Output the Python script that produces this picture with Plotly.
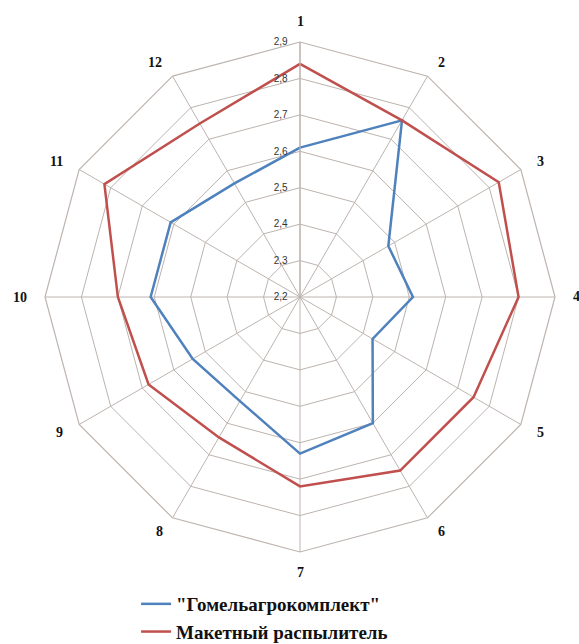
import math
import plotly.graph_objects as go

# Spray-pattern comparison across 12 measurement directions
directions = ["1", "2", "3", "4", "5", "6", "7", "8", "9", "10", "11", "12"]
gomel_values = [2.61, 2.76, 2.48, 2.51, 2.43, 2.60, 2.63, 2.53, 2.54, 2.61, 2.61, 2.56]
prototype_values = [2.84, 2.76, 2.83, 2.80, 2.75, 2.75, 2.72, 2.645, 2.68, 2.70, 2.82, 2.75]

series_names = ['"Гомельагрокомплект"', "Макетный распылитель"]
series_colors = ["#4f81bd", "#c0504d"]

radial_ticks = [2.2, 2.3, 2.4, 2.5, 2.6, 2.7, 2.8, 2.9]
radial_tick_text = ["2,2", "2,3", "2,4", "2,5", "2,6", "2,7", "2,8", "2,9"]

GRID = "#bdb4af"
NBSP = "\u00a0"

fig = go.Figure()
for name, vals, col in zip(series_names, [gomel_values, prototype_values], series_colors):
    fig.add_trace(go.Scatterpolar(
        r=vals + vals[:1],
        theta=directions + directions[:1],
        mode="lines",
        name=name,
        line=dict(color=col, width=2.5),
    ))

W, H = 579, 644
cx, cy, R = 300, 297, 255

# Category labels placed just outside each outer vertex, anchored away from the chart
label_gap = 16
annotations = []
n = len(directions)
for i, lab in enumerate(directions):
    ang = 2 * math.pi * i / n
    sx, sy = math.sin(ang), -math.cos(ang)
    px = cx + (R + label_gap) * sx
    py = cy + (R + label_gap) * sy
    if abs(sx) > 0.1:
        xa = "left" if sx > 0 else "right"
        ya = "middle"
    else:
        xa = "center"
        ya = "bottom" if sy < 0 else "top"
        py = cy + (R + label_gap - 5) * sy
    annotations.append(dict(
        text=lab, x=px / W, y=1 - py / H, xref="paper", yref="paper",
        xanchor=xa, yanchor=ya, showarrow=False,
        font=dict(family="Liberation Serif", size=14, color="#111111", weight="bold"),
    ))

fig.update_layout(
    width=W, height=H,
    margin=dict(l=0, r=0, t=0, b=0, autoexpand=False),
    paper_bgcolor="white",
    plot_bgcolor="white",
    showlegend=True,
    annotations=annotations,
    legend=dict(
        x=0.235, y=1 - 585 / H, xanchor="left", yanchor="top",
        font=dict(family="Liberation Serif", size=19, color="#111111", weight="bold"),
        bgcolor="rgba(0,0,0,0)",
        tracegroupgap=0,
    ),
    polar=dict(
        domain=dict(x=[(cx - R) / W, (cx + R) / W], y=[1 - (cy + R) / H, 1 - (cy - R) / H]),
        bgcolor="white",
        gridshape="linear",
        radialaxis=dict(
            range=[2.2, 2.9],
            tickvals=radial_ticks,
            ticktext=[t + NBSP * 3 for t in radial_tick_text],
            angle=90,
            tickangle=90,
            side="counterclockwise",
            showline=True,
            linecolor=GRID,
            linewidth=1.2,
            gridcolor=GRID,
            gridwidth=1.2,
            ticks="",
            tickfont=dict(family="Liberation Sans", size=10, color="#333333"),
        ),
        angularaxis=dict(
            direction="clockwise",
            rotation=90,
            showline=True,
            linecolor=GRID,
            linewidth=1.2,
            gridcolor=GRID,
            gridwidth=1.2,
            ticks="",
            showticklabels=False,
        ),
    ),
)

fig.write_html("out.html")
